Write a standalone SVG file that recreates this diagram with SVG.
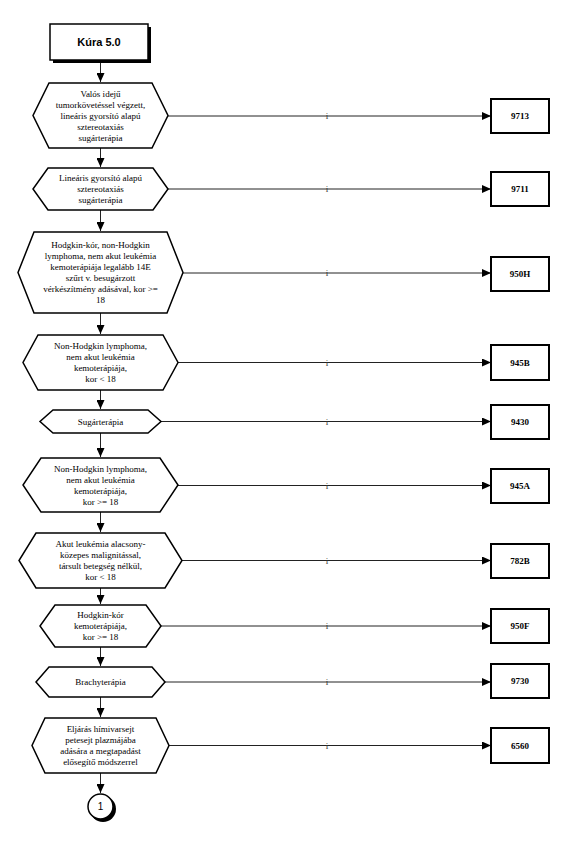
<svg xmlns="http://www.w3.org/2000/svg" width="567" height="851" viewBox="0 0 567 851">
<style>
.hex{fill:#fff;stroke:#000;stroke-width:1.5}
.t{font-family:"Liberation Serif",serif;font-size:9px;fill:#000;text-anchor:middle}
.b{font-family:"Liberation Serif",serif;font-size:9px;font-weight:bold;fill:#000;text-anchor:middle}
.box{fill:#fff;stroke:#000;stroke-width:2}
.ln{stroke:#222;stroke-width:1;fill:none}
.i{font-family:"Liberation Serif",serif;font-size:9px;fill:#333;text-anchor:middle}
</style>
<defs>
<marker id="ah" markerWidth="10" markerHeight="8" refX="9" refY="4" orient="auto" markerUnits="userSpaceOnUse">
<path d="M0,0 L9,4 L0,8 Z" fill="#000"/>
</marker>
</defs>
<rect width="567" height="851" fill="#fff"/>

<g id="connectors">
<line class="ln" x1="100.5" y1="61" x2="100.5" y2="82" marker-end="url(#ah)"/>
<line class="ln" x1="100.5" y1="148" x2="100.5" y2="167" marker-end="url(#ah)"/>
<line class="ln" x1="100.5" y1="210" x2="100.5" y2="231" marker-end="url(#ah)"/>
<line class="ln" x1="100.5" y1="313" x2="100.5" y2="334" marker-end="url(#ah)"/>
<line class="ln" x1="100.5" y1="390" x2="100.5" y2="409" marker-end="url(#ah)"/>
<line class="ln" x1="100.5" y1="433" x2="100.5" y2="457" marker-end="url(#ah)"/>
<line class="ln" x1="100.5" y1="512" x2="100.5" y2="532" marker-end="url(#ah)"/>
<line class="ln" x1="100.5" y1="588" x2="100.5" y2="604" marker-end="url(#ah)"/>
<line class="ln" x1="100.5" y1="647" x2="100.5" y2="666" marker-end="url(#ah)"/>
<line class="ln" x1="100.5" y1="697" x2="100.5" y2="717" marker-end="url(#ah)"/>
<line class="ln" x1="100.5" y1="773" x2="100.5" y2="793" marker-end="url(#ah)"/>

<line class="ln" x1="168" y1="116" x2="491" y2="116" marker-end="url(#ah)"/>
<line class="ln" x1="168" y1="189" x2="491" y2="189" marker-end="url(#ah)"/>
<line class="ln" x1="183" y1="273" x2="491" y2="273" marker-end="url(#ah)"/>
<line class="ln" x1="178" y1="362.5" x2="491" y2="362.5" marker-end="url(#ah)"/>
<line class="ln" x1="161" y1="421.5" x2="491" y2="421.5" marker-end="url(#ah)"/>
<line class="ln" x1="178" y1="485.5" x2="491" y2="485.5" marker-end="url(#ah)"/>
<line class="ln" x1="182" y1="560.5" x2="491" y2="560.5" marker-end="url(#ah)"/>
<line class="ln" x1="161" y1="626" x2="491" y2="626" marker-end="url(#ah)"/>
<line class="ln" x1="165" y1="682" x2="491" y2="682" marker-end="url(#ah)"/>
<line class="ln" x1="169" y1="745.5" x2="491" y2="745.5" marker-end="url(#ah)"/>

<text class="i" x="327" y="119">i</text>
<text class="i" x="327" y="192">i</text>
<text class="i" x="327" y="276">i</text>
<text class="i" x="327" y="365.5">i</text>
<text class="i" x="327" y="424.5">i</text>
<text class="i" x="327" y="488.5">i</text>
<text class="i" x="327" y="563.5">i</text>
<text class="i" x="327" y="629">i</text>
<text class="i" x="327" y="685">i</text>
<text class="i" x="327" y="748.5">i</text>
</g>

<g id="start">
<rect x="53" y="27" width="98" height="36" fill="#000"/>
<rect x="50" y="24" width="98" height="36" fill="#fff" stroke="#000" stroke-width="1.5"/>
<text x="99" y="46" font-family="'Liberation Sans',sans-serif" font-size="11" font-weight="bold" text-anchor="middle">Kúra 5.0</text>
</g>

<g id="n1">
<polygon class="hex" points="49,83 152,83 168,115.5 152,148 49,148 33,115.5"/>
<text class="t" x="100.5" y="96.5">Valós idejű</text>
<text class="t" x="100.5" y="107.5">tumorkövetéssel végzett,</text>
<text class="t" x="100.5" y="118.5">lineáris gyorsító alapú</text>
<text class="t" x="100.5" y="129.5">sztereotaxiás</text>
<text class="t" x="100.5" y="140.5">sugárterápia</text>
</g>
<g id="n2">
<polygon class="hex" points="48,168 153,168 168,189 153,210 48,210 33,189"/>
<text class="t" x="100.5" y="181">Lineáris gyorsító alapú</text>
<text class="t" x="100.5" y="192">sztereotaxiás</text>
<text class="t" x="100.5" y="203">sugárterápia</text>
</g>
<g id="n3">
<polygon class="hex" points="34,232 167,232 183,272.5 167,313 34,313 18,272.5"/>
<text class="t" x="100.5" y="248">Hodgkin-kór, non-Hodgkin</text>
<text class="t" x="100.5" y="259">lymphoma, nem akut leukémia</text>
<text class="t" x="100.5" y="270">kemoterápiája legalább 14E</text>
<text class="t" x="100.5" y="281">szűrt v. besugárzott</text>
<text class="t" x="100.5" y="292">vérkészítmény adásával, kor &gt;=</text>
<text class="t" x="100.5" y="303">18</text>
</g>
<g id="n4">
<polygon class="hex" points="38,335 163,335 178,362.5 163,390 38,390 23,362.5"/>
<text class="t" x="100.5" y="349">Non-Hodgkin lymphoma,</text>
<text class="t" x="100.5" y="360">nem akut leukémia</text>
<text class="t" x="100.5" y="371">kemoterápiája,</text>
<text class="t" x="100.5" y="382">kor &lt; 18</text>
</g>
<g id="n5">
<polygon class="hex" points="53,410 148,410 161,421.5 148,433 53,433 40,421.5"/>
<text class="t" x="100.5" y="424.5">Sugárterápia</text>
</g>
<g id="n6">
<polygon class="hex" points="41,458 160,458 178,485 160,512 41,512 23,485"/>
<text class="t" x="100.5" y="472">Non-Hodgkin lymphoma,</text>
<text class="t" x="100.5" y="483">nem akut leukémia</text>
<text class="t" x="100.5" y="494">kemoterápiája,</text>
<text class="t" x="100.5" y="505">kor &gt;= 18</text>
</g>
<g id="n7">
<polygon class="hex" points="36,533 165,533 182,560.5 165,588 36,588 19,560.5"/>
<text class="t" x="100.5" y="547">Akut leukémia alacsony-</text>
<text class="t" x="100.5" y="558">közepes malignitással,</text>
<text class="t" x="100.5" y="569">társult betegség nélkül,</text>
<text class="t" x="100.5" y="580">kor &lt; 18</text>
</g>
<g id="n8">
<polygon class="hex" points="55,605 146,605 161,626 146,647 55,647 40,626"/>
<text class="t" x="100.5" y="618">Hodgkin-kór</text>
<text class="t" x="100.5" y="629">kemoterápiája,</text>
<text class="t" x="100.5" y="640">kor &gt;= 18</text>
</g>
<g id="n9">
<polygon class="hex" points="49,667 152,667 165,682 152,697 49,697 36,682"/>
<text class="t" x="100.5" y="685">Brachyterápia</text>
</g>
<g id="n10">
<polygon class="hex" points="45,718 156,718 169,745.5 156,773 45,773 32,745.5"/>
<text class="t" x="100.5" y="732">Eljárás hímivarsejt</text>
<text class="t" x="100.5" y="743">petesejt plazmájába</text>
<text class="t" x="100.5" y="754">adására a megtapadást</text>
<text class="t" x="100.5" y="765">elősegítő módszerrel</text>
</g>
<g id="end">
<circle cx="103" cy="809" r="13" fill="#000"/>
<circle cx="100.5" cy="806.5" r="12.5" fill="#fff" stroke="#000" stroke-width="1.5"/>
<text x="100.5" y="810" font-family="'Liberation Sans',sans-serif" font-size="10" text-anchor="middle">1</text>
</g>

<g id="r9713"><rect class="box" x="491" y="99" width="58" height="34"/><text class="b" x="520" y="119">9713</text></g>
<g id="r9711"><rect class="box" x="491" y="172" width="58" height="34"/><text class="b" x="520" y="192">9711</text></g>
<g id="r950H"><rect class="box" x="491" y="257" width="58" height="34"/><text class="b" x="520" y="277">950H</text></g>
<g id="r945B"><rect class="box" x="491" y="345" width="58" height="35"/><text class="b" x="520" y="365.5">945B</text></g>
<g id="r9430"><rect class="box" x="491" y="405" width="58" height="34"/><text class="b" x="520" y="425">9430</text></g>
<g id="r945A"><rect class="box" x="491" y="469" width="58" height="34"/><text class="b" x="520" y="489">945A</text></g>
<g id="r782B"><rect class="box" x="491" y="544" width="58" height="34"/><text class="b" x="520" y="564">782B</text></g>
<g id="r950F"><rect class="box" x="491" y="609" width="58" height="34"/><text class="b" x="520" y="629">950F</text></g>
<g id="r9730"><rect class="box" x="491" y="664" width="58" height="34"/><text class="b" x="520" y="684">9730</text></g>
<g id="r6560"><rect class="box" x="491" y="728" width="58" height="35"/><text class="b" x="520" y="748.5">6560</text></g>
</svg>
